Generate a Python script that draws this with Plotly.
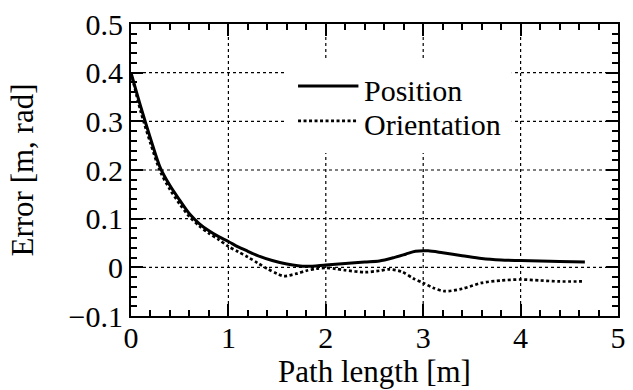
import plotly.graph_objects as go

# Path length [m] and error curves
pos_x = [0, 0.1, 0.2, 0.3, 0.4, 0.5, 0.6, 0.7, 0.8, 0.9, 1.0, 1.1, 1.2, 1.3, 1.45,
         1.6, 1.8, 2.0, 2.2, 2.4, 2.55, 2.7, 2.82, 2.92, 3.05, 3.2, 3.4, 3.6, 3.8,
         4.0, 4.2, 4.4, 4.66]
pos_y = [0.40, 0.33, 0.265, 0.205, 0.168, 0.138, 0.11, 0.09, 0.075, 0.063, 0.053,
         0.042, 0.033, 0.024, 0.014, 0.007, 0.002, 0.005, 0.008, 0.011, 0.013,
         0.020, 0.027, 0.033, 0.034, 0.03, 0.024, 0.018, 0.015, 0.014, 0.013,
         0.012, 0.011]

ori_x = [0, 0.1, 0.2, 0.3, 0.4, 0.5, 0.6, 0.7, 0.8, 0.9, 1.0, 1.1, 1.2, 1.3, 1.4,
         1.5, 1.57, 1.7, 1.8, 1.9, 2.0, 2.1, 2.2, 2.4, 2.55, 2.65, 2.78, 2.9, 3.0,
         3.1, 3.22, 3.4, 3.6, 3.8, 4.0, 4.2, 4.4, 4.63]
ori_y = [0.40, 0.32, 0.255, 0.197, 0.16, 0.13, 0.104, 0.085, 0.07, 0.057, 0.043,
         0.032, 0.021, 0.009, -0.003, -0.013, -0.018, -0.013, -0.007, -0.003,
         -0.001, -0.003, -0.006, -0.01, -0.007, -0.004, -0.009, -0.023, -0.032,
         -0.042, -0.049, -0.044, -0.032, -0.027, -0.025, -0.027, -0.029, -0.029]

legend_labels = ["Position", "Orientation"]

# interior grid positions (major tick values inside the frame)
x_grid = [1, 2, 3, 4]
y_grid = [0.0, 0.1, 0.2, 0.3, 0.4]

X_RANGE = [0, 5]
Y_RANGE = [-0.1, 0.5]
FONT = "Liberation Serif"

# Dotted grid drawn as one line trace, segments separated by None
grid_x, grid_y = [], []
for gx in x_grid:
    grid_x += [gx, gx, None]
    grid_y += [Y_RANGE[0], Y_RANGE[1], None]
for gy in y_grid:
    grid_x += [X_RANGE[0], X_RANGE[1], None]
    grid_y += [gy, gy, None]

fig = go.Figure()
fig.add_trace(go.Scatter(x=grid_x, y=grid_y, mode="lines", hoverinfo="skip",
                         line=dict(color="black", width=1.2, dash="3px,3px"),
                         connectgaps=False))
fig.add_trace(go.Scatter(x=pos_x, y=pos_y, mode="lines", name=legend_labels[0],
                         line=dict(color="black", width=3, shape="spline",
                                   smoothing=0.8)))
fig.add_trace(go.Scatter(x=ori_x, y=ori_y, mode="lines", name=legend_labels[1],
                         line=dict(color="black", width=2.7, dash="3px,2.5px",
                                   shape="spline", smoothing=0.8)))

# Frame with inside ticks (major + minor on all four sides)
tick_axis = dict(
    showline=True, linecolor="black", linewidth=2, mirror="ticks",
    ticks="inside", ticklen=12, tickwidth=2, tickcolor="black",
    showgrid=False, zeroline=False,
    tickfont=dict(family=FONT, size=30, color="black"),
    title_font=dict(family=FONT, size=31, color="black"),
)

fig.update_layout(
    xaxis=dict(range=X_RANGE, tick0=0, dtick=1, ticklabelstandoff=-6,
               title=dict(text="Path length [m]", standoff=2),
               minor=dict(ticks="inside", ticklen=6, dtick=0.2, tick0=0,
                          tickcolor="black", tickwidth=2),
               **tick_axis),
    yaxis=dict(range=Y_RANGE, tick0=0, dtick=0.1,
               title=dict(text="Error [m, rad]", standoff=26),
               minor=dict(ticks="inside", ticklen=6, dtick=0.02, tick0=0,
                          tickcolor="black", tickwidth=2),
               **tick_axis),
)

# Legend block: white patch over the grid, line samples and labels
fig.add_shape(type="rect", xref="paper", yref="paper", x0=0.315, x1=0.782,
              y0=0.558, y1=0.877, fillcolor="white", line_width=0, layer="above")
fig.add_shape(type="line", xref="paper", yref="paper", x0=0.343, x1=0.467,
              y0=0.788, y1=0.788, line=dict(color="black", width=3))
fig.add_shape(type="line", xref="paper", yref="paper", x0=0.343, x1=0.467,
              y0=0.668, y1=0.668,
              line=dict(color="black", width=2.7, dash="3px,2.5px"))
for label, yy in zip(legend_labels, [0.772, 0.655]):
    fig.add_annotation(x=0.474, y=yy, xref="paper", yref="paper", text=label,
                       showarrow=False, xanchor="left", yanchor="middle",
                       font=dict(family=FONT, size=30, color="black"))

fig.update_layout(width=633, height=390, paper_bgcolor="white", plot_bgcolor="white",
                  margin=dict(l=131, r=7, t=24, b=74), showlegend=False)

fig.write_html("out.html")
